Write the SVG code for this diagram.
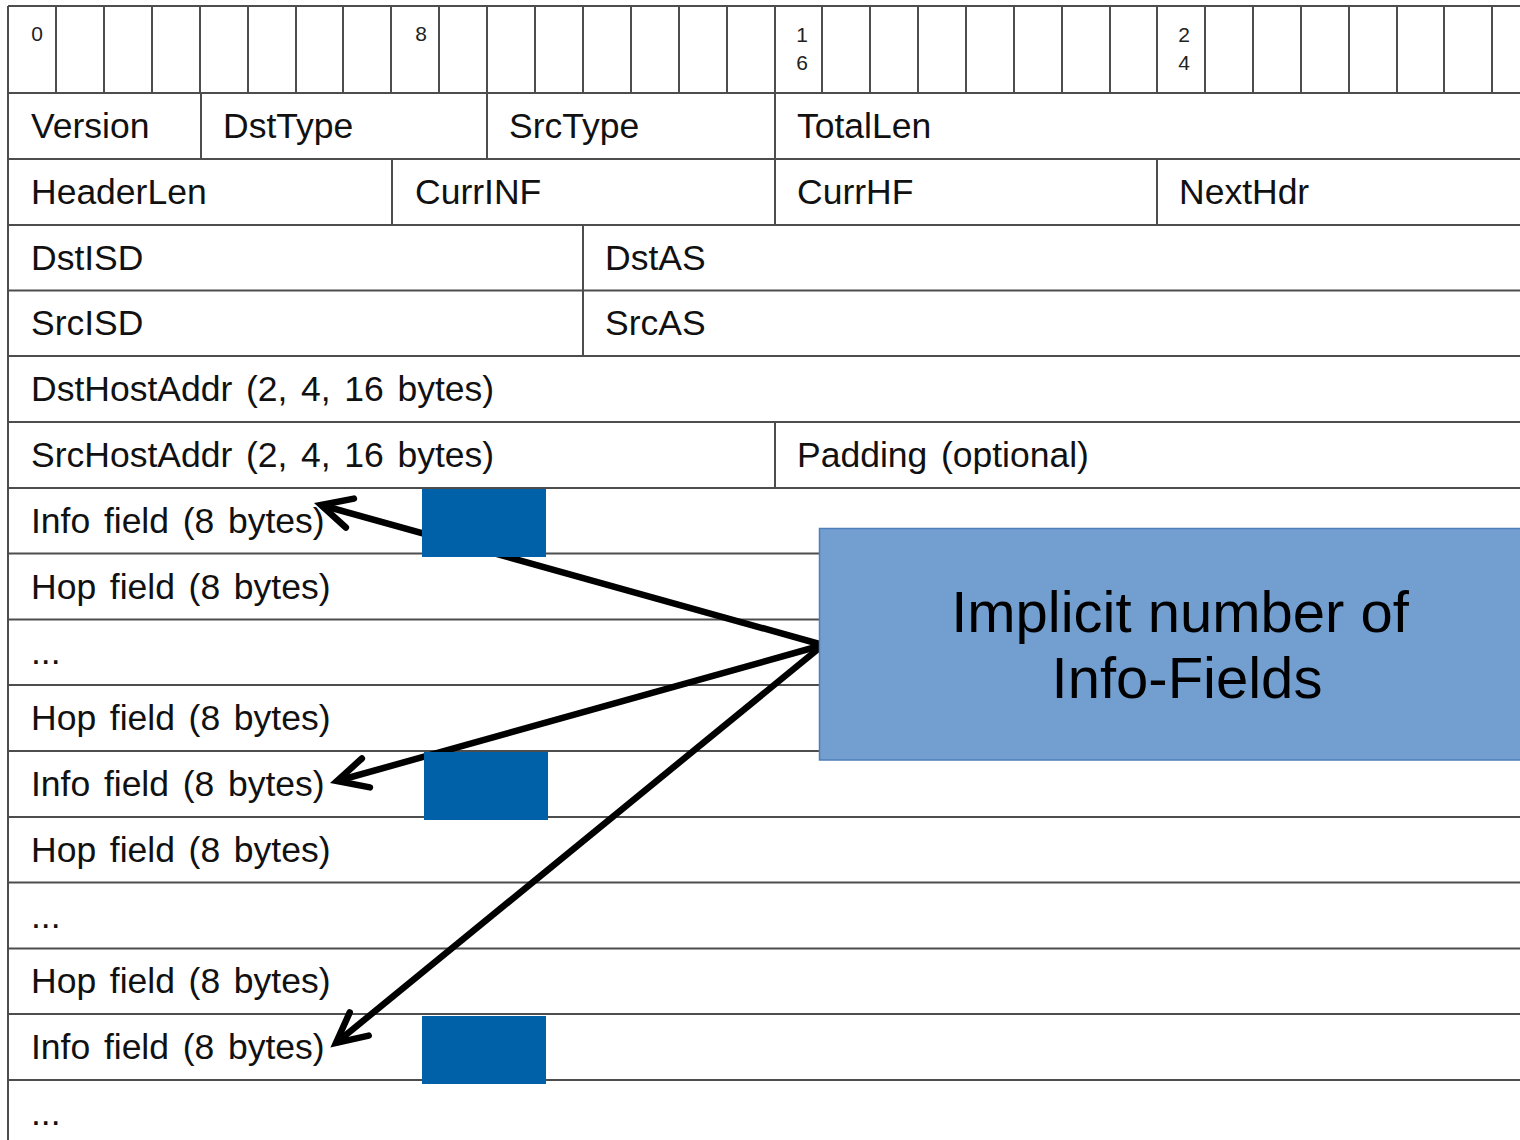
<svg xmlns="http://www.w3.org/2000/svg" width="1520" height="1140" viewBox="0 0 1520 1140">
<style>
.g{stroke:#4d4d4d;stroke-width:2;fill:none}
.t{font-family:"Liberation Sans",Arial,sans-serif;font-size:35.5px;word-spacing:3.8px;fill:#111}
.n{font-family:"Liberation Sans",Arial,sans-serif;font-size:21px;fill:#222;text-anchor:middle}
.mark{fill:#0061a8}
.c{stroke:#000;stroke-width:6.5;fill:none;marker-end:url(#ah)}
.call{fill:#729fcf;stroke:#4f7fbb;stroke-width:1.5}
.ct{font-family:"Liberation Sans",Arial,sans-serif;font-size:58px;fill:#000;text-anchor:middle}
</style>
<defs>
<marker id="ah" markerUnits="userSpaceOnUse" markerWidth="60" markerHeight="60" viewBox="-40 -30 60 60" refX="0" refY="0" orient="auto" overflow="visible">
<path d="M -30 -15 L 0 0 L -30 15" fill="none" stroke="#000" stroke-width="6.5" stroke-linecap="round" stroke-linejoin="miter"/>
</marker>
</defs>
<rect width="1520" height="1140" fill="#fff"/>

<g id="ruler">
<path class="g" d="M8 6H1520M8 93H1520M8 6V1140"/>
<path class="g" d="M56 6V93M104 6V93M152 6V93M200 6V93M248 6V93M296 6V93M343 6V93M391 6V93M439 6V93M487 6V93M535 6V93M583 6V93M631 6V93M679 6V93M727 6V93M775 6V93M822 6V93M870 6V93M918 6V93M966 6V93M1014 6V93M1062 6V93M1110 6V93M1157 6V93M1205 6V93M1253 6V93M1301 6V93M1349 6V93M1397 6V93M1444 6V93M1492 6V93"/>
<text class="n" x="37" y="41">0</text>
<text class="n" x="421" y="41">8</text>
<text class="n" x="802" y="42">1</text>
<text class="n" x="802" y="70">6</text>
<text class="n" x="1184" y="42">2</text>
<text class="n" x="1184" y="70">4</text>
</g>

<g id="rows">
<path class="g" d="M8 159H1520M8 225H1520M8 290.5H1520M8 356H1520M8 422H1520M8 488H1520M8 553.5H1520M8 619.5H1520M8 685H1520M8 751H1520M8 817H1520M8 882.5H1520M8 948.5H1520M8 1014H1520M8 1080H1520"/>
</g>

<g id="row-version">
<path class="g" d="M201 93V159M487 93V159M775 93V159"/>
<text class="t" x="31" y="138">Version</text>
<text class="t" x="223" y="138">DstType</text>
<text class="t" x="509" y="138">SrcType</text>
<text class="t" x="797" y="138">TotalLen</text>
</g>
<g id="row-headerlen">
<path class="g" d="M392 159V225M775 159V225M1157 159V225"/>
<text class="t" x="31" y="204">HeaderLen</text>
<text class="t" x="415" y="204">CurrINF</text>
<text class="t" x="797" y="204">CurrHF</text>
<text class="t" x="1179" y="204">NextHdr</text>
</g>
<g id="row-dst">
<path class="g" d="M583 225V356"/>
<text class="t" x="31" y="270">DstISD</text>
<text class="t" x="605" y="270">DstAS</text>
</g>
<g id="row-src">
<text class="t" x="31" y="335">SrcISD</text>
<text class="t" x="605" y="335">SrcAS</text>
</g>
<g id="row-dsthost"><text class="t" x="31" y="401">DstHostAddr (2, 4, 16 bytes)</text></g>
<g id="row-srchost">
<path class="g" d="M775 422V488"/>
<text class="t" x="31" y="467">SrcHostAddr (2, 4, 16 bytes)</text>
<text class="t" x="797" y="467">Padding (optional)</text>
</g>
<g id="row-info1"><text class="t" x="31" y="533">Info field (8 bytes)</text></g>
<g id="row-hop1"><text class="t" x="31" y="599">Hop field (8 bytes)</text></g>
<g id="row-dots1"><text class="t" x="31" y="664">...</text></g>
<g id="row-hop2"><text class="t" x="31" y="730">Hop field (8 bytes)</text></g>
<g id="row-info2"><text class="t" x="31" y="796">Info field (8 bytes)</text></g>
<g id="row-hop3"><text class="t" x="31" y="862">Hop field (8 bytes)</text></g>
<g id="row-dots2"><text class="t" x="31" y="928">...</text></g>
<g id="row-hop4"><text class="t" x="31" y="993">Hop field (8 bytes)</text></g>
<g id="row-info3"><text class="t" x="31" y="1059">Info field (8 bytes)</text></g>
<g id="row-dots3"><text class="t" x="31" y="1125">...</text></g>

<g id="connectors">
<path class="c" d="M823 645L321 505"/>
<path class="c" d="M823 645L337 781"/>
<path class="c" d="M823 645L336 1043"/>
</g>

<g id="marker1"><rect class="mark" x="422" y="489" width="124" height="68"/></g>
<g id="marker2"><rect class="mark" x="424" y="752" width="124" height="68"/></g>
<g id="marker3"><rect class="mark" x="422" y="1016" width="124" height="68"/></g>

<g id="callout">
<rect class="call" x="819.5" y="528.5" width="720" height="231.5"/>
<text class="ct" x="1180" y="632">Implicit number of</text>
<text class="ct" x="1187" y="698">Info-Fields</text>
</g>
</svg>
